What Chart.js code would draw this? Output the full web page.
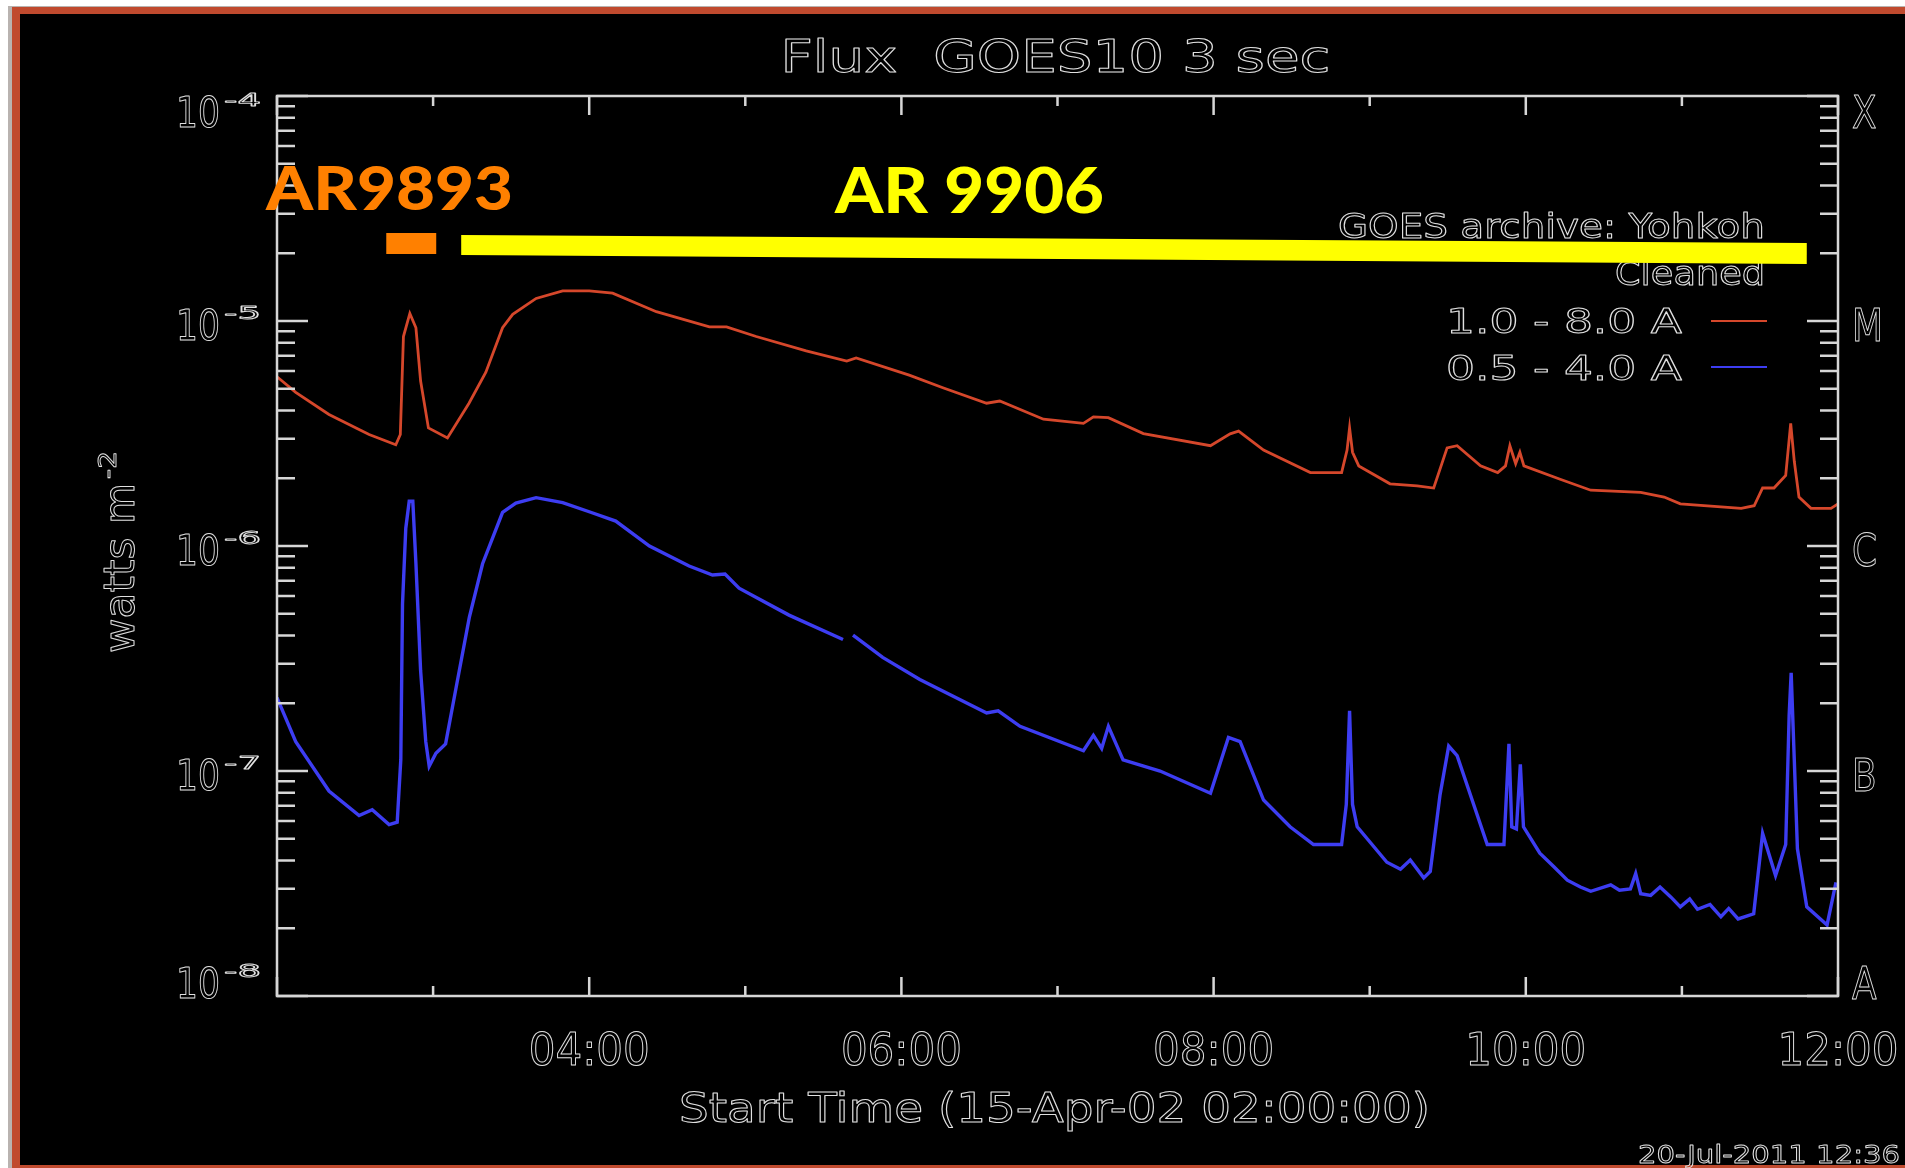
<!DOCTYPE html>
<html>
<head>
<meta charset="utf-8">
<script src="https://cdn.jsdelivr.net/npm/chart.js@4.4.0/dist/chart.umd.min.js"></script>
<style>
html,body{margin:0;padding:0;background:#fff;overflow:hidden}
canvas{display:block}
</style>
</head>
<body>
<canvas id="c" width="1905" height="1168"></canvas>
<script>
// ---------- data ----------
const redTime = [2.00,2.12,2.333,2.59,2.761,2.79,2.81,2.851,2.89,2.92,2.97,3.092,3.23,3.338,3.445,3.51,3.66,3.83,4.00,4.15,4.43,4.77,4.88,5.07,5.39,5.65,5.71,6.05,6.27,6.546,6.63,6.91,7.166,7.23,7.326,7.55,7.98,8.106,8.16,8.32,8.62,8.82,8.855,8.871,8.89,8.93,9.13,9.304,9.41,9.496,9.56,9.71,9.82,9.87,9.898,9.935,9.962,9.988,10.22,10.416,10.736,10.886,10.99,11.38,11.463,11.517,11.59,11.665,11.697,11.72,11.75,11.827,11.955,12.0];
const redFlux = [5.65e-6,4.82e-6,3.84e-6,3.13e-6,2.82e-6,3.13e-6,8.53e-6,1.08e-5,9.33e-6,5.41e-6,3.35e-6,3.02e-6,4.31e-6,5.92e-6,9.33e-6,1.07e-5,1.26e-5,1.36e-5,1.36e-5,1.33e-5,1.10e-5,9.42e-6,9.42e-6,8.53e-6,7.36e-6,6.64e-6,6.85e-6,5.75e-6,5.04e-6,4.31e-6,4.41e-6,3.66e-6,3.51e-6,3.75e-6,3.72e-6,3.16e-6,2.79e-6,3.15e-6,3.24e-6,2.67e-6,2.12e-6,2.12e-6,2.67e-6,3.35e-6,2.61e-6,2.27e-6,1.89e-6,1.85e-6,1.81e-6,2.73e-6,2.79e-6,2.27e-6,2.12e-6,2.27e-6,2.79e-6,2.32e-6,2.61e-6,2.27e-6,1.98e-6,1.77e-6,1.73e-6,1.65e-6,1.54e-6,1.47e-6,1.51e-6,1.81e-6,1.81e-6,2.06e-6,3.51e-6,2.38e-6,1.65e-6,1.47e-6,1.47e-6,1.54e-6];

const blueTime = [2.00,2.12,2.333,2.526,2.61,2.718,2.77,2.793,2.804,2.825,2.847,2.87,2.89,2.92,2.953,2.975,3.018,3.08,3.146,3.232,3.317,3.445,3.53,3.66,3.83,4.00,4.17,4.386,4.64,4.79,4.87,4.96,5.28,5.626,5.65,5.69,5.88,6.118,6.546,6.62,6.76,7.166,7.23,7.283,7.326,7.42,7.657,7.98,8.095,8.17,8.32,8.49,8.64,8.82,8.85,8.871,8.89,8.92,9.11,9.197,9.26,9.346,9.388,9.45,9.506,9.56,9.753,9.86,9.892,9.91,9.94,9.965,9.985,10.09,10.18,10.266,10.35,10.416,10.544,10.60,10.67,10.704,10.736,10.80,10.86,10.93,10.99,11.05,11.10,11.18,11.25,11.30,11.36,11.46,11.517,11.60,11.665,11.687,11.70,11.72,11.74,11.80,11.93,11.987];
const blueFlux = [2.12e-7,1.35e-7,8.15e-8,6.34e-8,6.73e-8,5.78e-8,5.92e-8,1.12e-7,5.53e-7,1.20e-6,1.58e-6,1.58e-6,8.34e-7,2.79e-7,1.35e-7,1.05e-7,1.20e-7,1.32e-7,2.32e-7,4.82e-7,8.34e-7,1.41e-6,1.55e-6,1.64e-6,1.56e-6,1.42e-6,1.29e-6,1.00e-6,8.15e-7,7.43e-7,7.50e-7,6.49e-7,4.93e-7,3.84e-7,null,4.02e-7,3.20e-7,2.55e-7,1.81e-7,1.85e-7,1.58e-7,1.23e-7,1.44e-7,1.26e-7,1.58e-7,1.12e-7,1.00e-7,7.96e-8,1.41e-7,1.35e-7,7.43e-8,5.65e-8,4.71e-8,4.71e-8,7.10e-8,1.85e-7,7.10e-8,5.65e-8,3.93e-8,3.66e-8,4.02e-8,3.35e-8,3.58e-8,7.78e-8,1.29e-7,1.17e-7,4.71e-8,4.71e-8,1.32e-7,5.65e-8,5.53e-8,1.07e-7,5.65e-8,4.31e-8,3.75e-8,3.27e-8,3.05e-8,2.92e-8,3.12e-8,2.95e-8,2.99e-8,3.50e-8,2.85e-8,2.80e-8,3.05e-8,2.75e-8,2.49e-8,2.70e-8,2.43e-8,2.55e-8,2.25e-8,2.45e-8,2.20e-8,2.32e-8,5.28e-8,3.43e-8,4.71e-8,1.77e-7,2.73e-7,1.12e-7,4.51e-8,2.49e-8,2.07e-8,3.20e-8];

const xTickHours  = [4, 6, 8, 10, 12];
const xTickLabels = ['04:00', '06:00', '08:00', '10:00', '12:00'];
const yDecades    = [-4, -5, -6, -7, -8];
const classLetters = ['X', 'M', 'C', 'B', 'A'];
const seriesLabels = ['1.0 - 8.0 A', '0.5 - 4.0 A'];
const arNames = ['AR9893', 'AR 9906'];
const arStart = [2.70, 3.18];   // hours
const arEnd   = [3.02, 11.80];  // hours

// ---------- styling ----------
const RED = '#d5472b', BLUE = '#3d3df2', AXIS = '#d6d6d6', TXT = '#e0e0e0';
const FONT = '"DejaVu Sans", "Liberation Sans", sans-serif';

function txt(ctx, s, x, y, o) {
  ctx.save();
  ctx.font = (o.weight || 'normal') + ' ' + o.size + 'px ' + (o.family || FONT);
  const w = ctx.measureText(s).width;
  const sx = o.width ? o.width / w : (o.sx || 1);
  const dw = w * sx;
  let left = x;
  if (o.align === 'center') left = x - dw / 2;
  else if (o.align === 'right') left = x - dw;
  ctx.translate(left, y);
  ctx.scale(sx, 1);
  ctx.textAlign = 'left';
  ctx.textBaseline = 'alphabetic';
  if (o.fill) { ctx.fillStyle = o.fill; ctx.fillText(s, 0, 0); }
  else { ctx.strokeStyle = o.stroke || TXT; ctx.lineWidth = (o.lw || 1.0); ctx.lineJoin = 'round'; ctx.strokeText(s, 0, 0); }
  ctx.restore();
}

const framePlugin = {
  id: 'frame',
  beforeDraw(chart) {
    const c = chart.ctx, W = chart.width, H = chart.height;
    c.save();
    c.fillStyle = '#ffffff'; c.fillRect(0, 0, W, H);
    c.fillStyle = '#b9b3b0'; c.fillRect(8, 6, W - 8, H - 6);
    c.fillStyle = '#c04a2e'; c.fillRect(12, 7, W - 12, H - 7);
    c.fillStyle = '#000000'; c.fillRect(20, 14, W - 20, H - 14 - 3);
    c.restore();
  }
};

const axesPlugin = {
  id: 'idlAxes',
  afterDatasetsDraw(chart) {
    const ctx = chart.ctx, a = chart.chartArea, xs = chart.scales.x, ys = chart.scales.y;
    ctx.save();
    ctx.strokeStyle = AXIS; ctx.lineWidth = 2.5;
    ctx.strokeRect(a.left, a.top, a.right - a.left, a.bottom - a.top);
    ctx.beginPath();
    // x ticks (hourly, long every 2 hours), pointing inward on bottom and top
    for (let h = xs.min; h <= xs.max; h++) {
      const px = xs.getPixelForValue(h);
      const len = (h % 2 === 0) ? 19 : 10;
      ctx.moveTo(px, a.bottom); ctx.lineTo(px, a.bottom - len);
      ctx.moveTo(px, a.top); ctx.lineTo(px, a.top + len);
    }
    // y ticks (log minor ticks) on left and right
    for (let d = -8; d <= -4; d++) {
      for (let m = 1; m <= 9; m++) {
        const v = m * Math.pow(10, d);
        if (v > ys.max * 1.0001) break;
        const py = ys.getPixelForValue(v);
        const len = (m === 1) ? 31 : 18;
        ctx.moveTo(a.left, py); ctx.lineTo(a.left + len, py);
        ctx.moveTo(a.right, py); ctx.lineTo(a.right - len, py);
      }
    }
    ctx.stroke();

    // x tick labels
    xTickHours.forEach((h, i) => {
      txt(ctx, xTickLabels[i], xs.getPixelForValue(h), a.bottom + 69, {size: 44, width: 121, align: 'center'});
    });
    // y tick labels 10^n and GOES class letters
    yDecades.forEach((d, i) => {
      const py = ys.getPixelForValue(Math.pow(10, d));
      let base = py + 19;
      if (i === 0) base = py + 31;
      if (i === yDecades.length - 1) base = py + 2;
      txt(ctx, '10', 220, base, {size: 42, width: 44, align: 'right'});
      txt(ctx, '-' + String(-d), 224, base - 21, {size: 18, width: 37, lw: 0.9});
      txt(ctx, classLetters[i], 1852, base + 1, {size: 45, sx: 0.8});
    });

    // title & axis titles
    txt(ctx, 'Flux  GOES10 3 sec', (a.left + a.right) / 2 - 2, 72, {size: 44, width: 550, align: 'center'});
    txt(ctx, 'Start Time (15-Apr-02 02:00:00)', (a.left + a.right) / 2 - 3, 1122, {size: 41, width: 751, align: 'center'});
    txt(ctx, '20-Jul-2011 12:36', 1900, 1163, {size: 25, width: 262, align: 'right', lw: 0.9});
    // rotated y title
    ctx.save();
    ctx.translate(134, 653);
    ctx.rotate(-Math.PI / 2);
    txt(ctx, 'watts m', 0, 0, {size: 42, width: 170});
    txt(ctx, '-2', 174, -18, {size: 24, width: 28, lw: 0.9});
    ctx.restore();

    // legend block
    txt(ctx, 'GOES archive: Yohkoh', 1765, 238, {size: 34, width: 427, align: 'right'});
    txt(ctx, 'Cleaned', 1765, 285, {size: 34, width: 150, align: 'right'});
    txt(ctx, seriesLabels[0], 1682, 333, {size: 34, width: 236, align: 'right'});
    txt(ctx, seriesLabels[1], 1682, 380, {size: 34, width: 236, align: 'right'});
    ctx.lineWidth = 2.2;
    ctx.strokeStyle = RED; ctx.beginPath(); ctx.moveTo(1711, 321); ctx.lineTo(1767, 321); ctx.stroke();
    ctx.strokeStyle = BLUE; ctx.beginPath(); ctx.moveTo(1711, 367); ctx.lineTo(1767, 367); ctx.stroke();

    // active-region annotations
    const o0 = xs.getPixelForValue(arStart[0]), o1 = xs.getPixelForValue(arEnd[0]);
    ctx.fillStyle = '#ff8000';
    ctx.fillRect(o0, 233, o1 - o0, 21);
    const y0 = xs.getPixelForValue(arStart[1]), y1 = xs.getPixelForValue(arEnd[1]);
    ctx.fillStyle = '#ffff00';
    ctx.beginPath();
    ctx.moveTo(y0, 235); ctx.lineTo(y1, 243); ctx.lineTo(y1, 264); ctx.lineTo(y0, 255); ctx.closePath();
    ctx.fill();
    txt(ctx, arNames[0], 266, 210, {size: 60, weight: '900', family: 'Lato, "Open Sans", sans-serif', width: 247, fill: '#ff8000'});
    txt(ctx, arNames[1], 835, 213, {size: 62, weight: '900', family: 'Lato, "Open Sans", sans-serif', width: 269, fill: '#ffff00'});
    ctx.restore();
  }
};

const toPoints = (t, v) => t.map((x, i) => ({x: x, y: v[i]}));

new Chart(document.getElementById('c'), {
  type: 'line',
  data: {
    datasets: [
      {label: seriesLabels[0], data: toPoints(redTime, redFlux), borderColor: RED, borderWidth: 2.8, pointRadius: 0, tension: 0, spanGaps: false},
      {label: seriesLabels[1], data: toPoints(blueTime, blueFlux), borderColor: BLUE, borderWidth: 3.4, pointRadius: 0, tension: 0, spanGaps: false}
    ]
  },
  options: {
    responsive: false,
    animation: false,
    devicePixelRatio: 1,
    layout: {padding: {left: 277, top: 96, right: 67, bottom: 172}},
    scales: {
      x: {type: 'linear', min: 2, max: 12, display: false},
      y: {type: 'logarithmic', min: 1e-8, max: 1e-4, display: false}
    },
    plugins: {legend: {display: false}, tooltip: {enabled: false}, title: {display: false}}
  },
  plugins: [framePlugin, axesPlugin]
});
</script>
</body>
</html>
